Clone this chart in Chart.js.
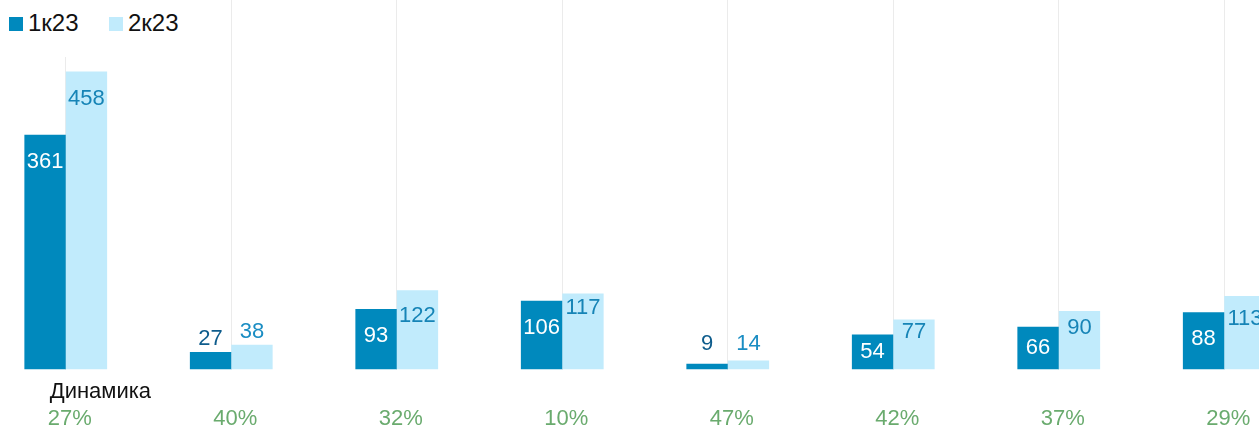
<!DOCTYPE html>
<html>
<head>
<meta charset="utf-8">
<script src="https://cdn.jsdelivr.net/npm/chart.js@4"></script>
<style>
  html, body { margin: 0; padding: 0; background: #fff; overflow: hidden; }
  body { width: 1259px; height: 428px; position: relative; font-family: "Liberation Sans", Arial, sans-serif; }
  #wrap { position: absolute; left: -17px; top: 0; width: 1324px; height: 428px; }
  #legend { position: absolute; left: 0; top: 0; width: 200px; height: 57px; background: #fff; }
  .item { position: absolute; top: 9px; font-size: 24px; color: #111; line-height: 28px; }
  .item span { position: absolute; left: 0; top: 8px; width: 14px; height: 14px; }
  .item b { font-weight: normal; margin-left: 19px; }
</style>
</head>
<body>
<div id="wrap"><canvas id="chart"></canvas></div>
<div id="legend">
  <div class="item" style="left:9px"><span style="background:#0089bd"></span><b>1к23</b></div>
  <div class="item" style="left:109px"><span style="background:#c1ebfc"></span><b>2к23</b></div>
</div>
<script>
const dynamics = ["27%", "40%", "32%", "10%", "47%", "42%", "37%", "29%"];
const q1 = [361, 27, 93, 106, 9, 54, 66, 88];
const q2 = [458, 38, 122, 117, 14, 77, 90, 113];

function place(bar, base) {
    const h = base - bar.y;
    if (h < 25) return { y: Math.min(bar.y - 13, base - 26), inside: false };
    return { y: bar.y + Math.min(27, h / 2), inside: true };
}

const valueLabels = {
    id: "valueLabels",
    afterDatasetsDraw(chart) {
        const ctx = chart.ctx;
        const base = chart.scales.y.getPixelForValue(0);
        const bars1 = chart.getDatasetMeta(0).data;
        const bars2 = chart.getDatasetMeta(1).data;
        ctx.save();
        ctx.font = '22px "Liberation Sans", Arial, sans-serif';
        ctx.textAlign = "center";
        ctx.textBaseline = "middle";
        bars1.forEach((b1, i) => {
            const b2 = bars2[i];
            const p1 = place(b1, base);
            const p2 = place(b2, base);
            if (p1.inside && p2.inside && p2.y > p1.y - 20) p2.y = p1.y - 20;
            ctx.fillStyle = p1.inside ? "#ffffff" : "#0e5c8c";
            ctx.fillText(String(q1[i]), b1.x, p1.y);
            ctx.fillStyle = p2.inside ? "#1684b6" : "#1a8dc3";
            ctx.fillText(String(q2[i]), b2.x, p2.y);
        });
        // caption above the dynamics row
        const x0 = chart.scales.x.getPixelForValue(0);
        ctx.textAlign = "left";
        ctx.fillStyle = "#111111";
        ctx.font = '22px "Liberation Sans", Arial, sans-serif';
        ctx.fillText("Динамика", x0 - 16, 392);
        ctx.restore();
    }
};

const ctx = document.getElementById("chart").getContext("2d");
new Chart(ctx, {
    type: "bar",
    data: {
        labels: dynamics,
        datasets: [
            { label: "1к23", data: q1, backgroundColor: "#0089bd", categoryPercentage: 0.5, barPercentage: 1.0 },
            { label: "2к23", data: q2, backgroundColor: "#c1ebfc", categoryPercentage: 0.5, barPercentage: 1.0 },
        ],
    },
    options: {
        responsive: true,
        maintainAspectRatio: false,
        animation: false,
        layout: { padding: { top: 0, left: 0, right: 0, bottom: -40 } },
        plugins: { legend: { display: false }, tooltip: { enabled: false } },
        scales: {
            x: {
                offset: true,
                border: { display: false },
                grid: { offset: false, color: "#ebebeb", lineWidth: 1, drawTicks: false },
                ticks: {
                    color: "#6aab6e",
                    padding: 36,
                    labelOffset: 4,
                    maxRotation: 0,
                    font: { family: '"Liberation Sans", Arial, sans-serif', size: 22 },
                },
            },
            y: { display: false, min: 0, max: 568 },
        },
    },
    plugins: [valueLabels],
});
</script>
</body>
</html>
